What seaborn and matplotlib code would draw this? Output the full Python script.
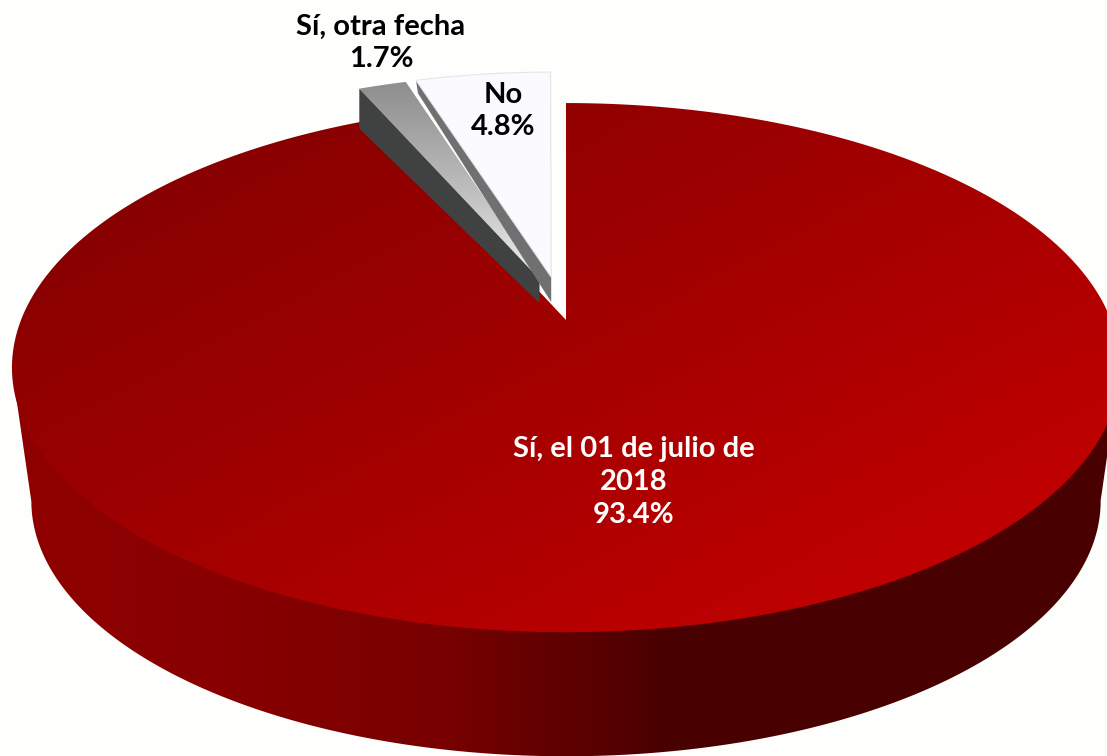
import numpy as np
import matplotlib
matplotlib.use("Agg")
import matplotlib.pyplot as plt
from matplotlib.patches import Polygon
import seaborn as sns

categories = ["Sí, el 01 de julio de\n2018", "Sí, otra fecha", "No"]
values = [93.4, 1.7, 4.8]

# perspective of the disc, in pixels
CX, CY, A, B, K = 566, 320, 545, 256, 0.18
SCALE, Y_BASE = 0.965, 455
# how far the two small slices are pulled out
shifts = [(0.0, 0.0), (-0.05, 0.164), (-0.028, 0.173)]

W, H = 1107, 756
BG = "#fefefc"

sns.set_theme(style="white")
plt.rcParams["font.family"] = ["Lato", "DejaVu Sans"]


def project(theta, r=1.0, shift=(0.0, 0.0)):
    x = r * np.sin(theta) + shift[0]
    y = r * np.cos(theta) + shift[1]
    d = 1 + K * y
    return CX + A * x / d, CY - B * y / d


def wedge(t0, t1, shift=(0.0, 0.0)):
    th = np.linspace(t0, t1, 300)
    xs, ys = project(th, shift=shift)
    tip = project(np.array([0.0]), r=0.0, shift=shift)
    return np.column_stack([np.r_[tip[0], xs], np.r_[tip[1], ys]])


def fill(ax, poly, grid, cmap):
    im = ax.imshow(grid, extent=(0, W, H, 0), cmap=cmap, vmin=0, vmax=1, aspect="auto")
    im.set_clip_path(Polygon(poly, transform=ax.transData))


fig = plt.figure(figsize=(W / 100, H / 100), dpi=100, facecolor=BG)
ax = fig.add_axes([0, 0, 1, 1])
ax.set_facecolor(BG)

px, py = np.meshgrid(np.arange(W) + 0.5, np.arange(H) + 0.5)
cuts = np.r_[0, np.cumsum(values)] / 100 * 2 * np.pi

# outer wall of the big slice, only the front part shows
th = np.linspace(0, cuts[1], 1500)
rx, ry = project(th)
i0, i1 = np.argmax(rx), np.argmin(rx)
rim_x, rim_y = rx[i0:i1 + 1], ry[i0:i1 + 1]
low_x = CX + SCALE * (rim_x - CX)
low_y = Y_BASE + SCALE * (rim_y - CY)
# upper border runs a bit inside the rim so no seam shows under the top face
in_x, in_y = project(th[i0:i1 + 1], r=0.98)
side_x = np.r_[rim_x[0], in_x, rim_x[-1], low_x[::-1]]
side_y = np.r_[rim_y[0], in_y, rim_y[-1], low_y[::-1]]
side = np.column_stack([side_x, side_y])
side_cmap = sns.blend_palette(["#900000", "#880000", "#780000", "#4a0000", "#480000", "#4a0000"], as_cmap=True)
fill(ax, side, px / W, side_cmap)

# small slices
gray = wedge(cuts[1], cuts[2], shifts[1])
white = wedge(cuts[2], cuts[3], shifts[2])

g_rim, g_tip = gray[1], gray[0]
ax.add_patch(Polygon([g_rim, g_tip, g_tip + [0, 24], g_rim + [0, 40]], fc="#404242", ec="none"))
gray_cmap = sns.blend_palette(["#8f8f8f", "#bababa", "#f0f0f0"], as_cmap=True)
fill(ax, gray, np.clip((py - 85) / 195, 0, 1), gray_cmap)

w_rim, w_tip = white[1], white[0]
ax.add_patch(Polygon([w_rim, w_tip, w_tip + [0, 25], w_rim + [2, 13]], fc="#707070", ec="none"))
ax.add_patch(Polygon(white, fc="#fbfbff", ec="#e4e4ea", lw=0.8))

# top of the big slice
top_cmap = sns.blend_palette(["#820000", "#c00000"], as_cmap=True)
shade = 175 + 0.037 * (px - 800) + 0.07 * (py - 400)
fill(ax, wedge(cuts[0], cuts[1]), np.clip((shade - 130) / 62, 0, 1), top_cmap)

ax.set_xlim(0, W)
ax.set_ylim(H, 0)
ax.axis("off")

label_pos = [(634, 482), (381, 43), (503, 111)]
label_col = ["white", "black", "black"]
for cat, val, pos, col in zip(categories, values, label_pos, label_col):
    ax.text(pos[0], pos[1], f"{cat}\n{val}%", ha="center", va="center", color=col,
            fontsize=21, fontweight="bold", linespacing=1.33)

fig.savefig("out.png", dpi=100, facecolor=BG)
